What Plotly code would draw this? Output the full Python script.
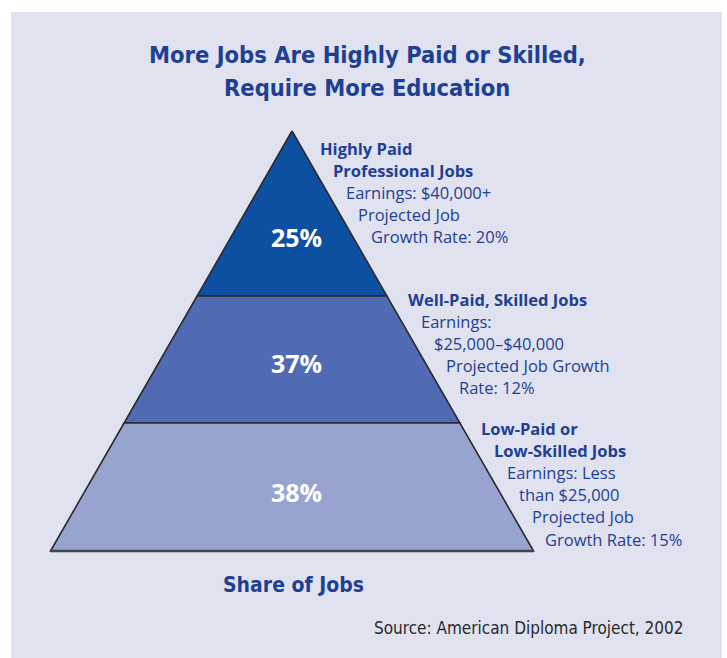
import plotly.graph_objects as go

# ---- data ----
tier_names = ["Highly Paid Professional Jobs", "Well-Paid, Skilled Jobs", "Low-Paid or Low-Skilled Jobs"]
shares = [25, 37, 38]  # share of jobs, %
earnings = ["$40,000+", "$25,000–$40,000", "Less than $25,000"]
growth = [20, 12, 15]  # projected job growth rate, %

# label line breaks for each tier (bold heading lines, then detail lines)
label_lines = [
    [("Highly Paid", True), ("Professional Jobs", True),
     (f"Earnings: {earnings[0]}", False), ("Projected Job", False),
     (f"Growth Rate: {growth[0]}%", False)],
    [("Well-Paid, Skilled Jobs", True), ("Earnings:", False),
     (earnings[1], False), ("Projected Job Growth", False),
     (f"Rate: {growth[1]}%", False)],
    [("Low-Paid or", True), ("Low-Skilled Jobs", True),
     ("Earnings: Less", False), ("than $25,000", False),
     ("Projected Job", False), (f"Growth Rate: {growth[2]}%", False)],
]

# ---- layout / style constants ----
W, H = 727, 658
apex = (292, 131)
base_y = 551
base_half = 241.5
tier_bounds = [131, 296, 423, 551]   # y pixel boundaries of tiers (top->bottom)
pct_label_y = [237, 363, 492]
tier_colors = ["#0d4fa1", "#506bb3", "#98a4d0"]
bg = "#e0e2f0"
text_blue = "#1e3f92"
title_font = "Liberation Sans Narrow, Arial Narrow, DejaVu Sans Condensed, sans-serif"
body_font = "Open Sans, Noto Sans, sans-serif"

def half_width(y):
    return base_half * (y - apex[1]) / (base_y - apex[1])

fig = go.Figure()

for i, (s, c) in enumerate(zip(shares, tier_colors)):
    y0, y1 = tier_bounds[i], tier_bounds[i + 1]
    w0, w1 = half_width(y0), half_width(y1)
    cx = apex[0]
    xs = [cx - w0, cx + w0, cx + w1, cx - w1, cx - w0]
    ys = [y0, y0, y1, y1, y0]
    fig.add_trace(go.Scatter(x=xs, y=ys, fill="toself", fillcolor=c,
                             mode="lines", line=dict(color="#2b2b2b", width=1.6),
                             hoverinfo="skip", showlegend=False))
    fig.add_annotation(x=296, y=pct_label_y[i], text=f"<b>{s}%</b>",
                       showarrow=False, font=dict(family=body_font, size=25, color="white"),
                       xanchor="center", yanchor="middle")

# thicker base line
fig.add_trace(go.Scatter(x=[apex[0] - base_half, apex[0] + base_half], y=[base_y, base_y],
                         mode="lines", line=dict(color="#45454f", width=2.5),
                         hoverinfo="skip", showlegend=False))

# side labels
label_start = [(318, 148), (406, 299), (479, 428)]
line_step = 22.2
indent = 12.8
for (x0, y0), lines in zip(label_start, label_lines):
    for j, (txt, bold) in enumerate(lines):
        t = f"<b>{txt}</b>" if bold else txt
        fig.add_annotation(x=x0 + j * indent, y=y0 + j * line_step, text=t,
                           showarrow=False, xanchor="left", yanchor="middle",
                           font=dict(family=body_font, size=16.5, color=text_blue))

# title
fig.add_annotation(x=367, y=55, text="<b>More Jobs Are Highly Paid or Skilled,</b>",
                   showarrow=False, xanchor="center", yanchor="middle",
                   font=dict(family=title_font, size=23.5, color=text_blue))
fig.add_annotation(x=367, y=88, text="<b>Require More Education</b>",
                   showarrow=False, xanchor="center", yanchor="middle",
                   font=dict(family=title_font, size=23.5, color=text_blue))
fig.add_annotation(x=293, y=585, text="<b>Share of Jobs</b>",
                   showarrow=False, xanchor="center", yanchor="middle",
                   font=dict(family=title_font, size=21, color=text_blue))
fig.add_annotation(x=686, y=628, text="Source: American Diploma Project, 2002",
                   showarrow=False, xanchor="right", yanchor="middle",
                   font=dict(family=title_font, size=17, color="#2a2a2a"))

fig.update_layout(
    width=W, height=H, margin=dict(l=0, r=0, t=0, b=0),
    paper_bgcolor="white", plot_bgcolor="white",
    xaxis=dict(range=[0, W], visible=False, fixedrange=True),
    yaxis=dict(range=[H, 0], visible=False, fixedrange=True),
    shapes=[dict(type="rect", xref="x", yref="y", x0=11, x1=722, y0=12, y1=H,
                 fillcolor=bg, line=dict(width=0), layer="below")],
)

fig.write_html("out.html", config={"displayModeBar": False},
               post_script="document.body.style.margin='0';document.body.style.overflow='hidden';")
